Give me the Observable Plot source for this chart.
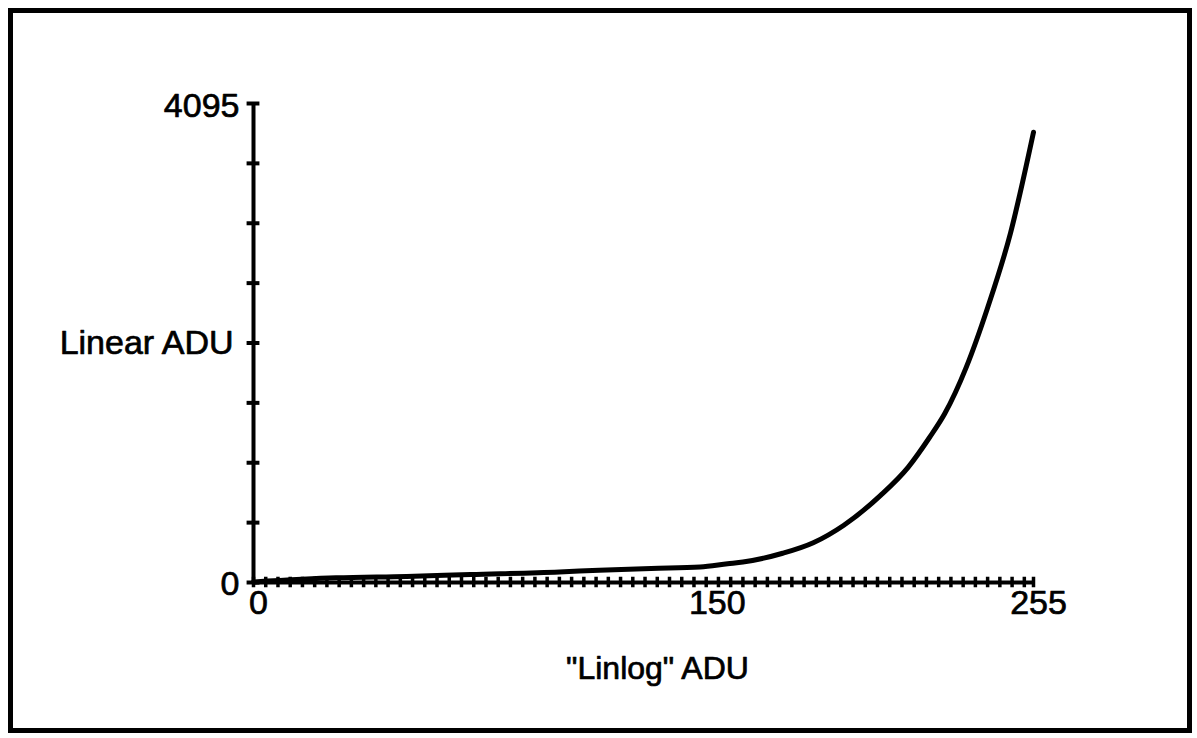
<!DOCTYPE html>
<html>
<head>
<meta charset="utf-8">
<script src="https://cdn.jsdelivr.net/npm/d3@7"></script>
<script src="https://cdn.jsdelivr.net/npm/@observablehq/plot@0.6"></script>
<style>
  html, body { margin: 0; padding: 0; background: #fff; }
  #wrap { position: relative; width: 1197px; height: 738px; overflow: hidden; }
  #frame { position: absolute; left: 8px; top: 8px; width: 1174px; height: 715px; border: 5px solid #000; pointer-events: none; }
</style>
</head>
<body>
<div id="wrap"><div id="frame"></div></div>
<script>
// "Linlog" ADU (x) versus Linear ADU (y)
const linlog = [0, 27, 50, 71, 100, 113, 130, 146, 155, 160, 173, 183, 193, 205, 214, 221, 226, 233, 240, 247.5, 255];
const linear = [5, 40, 52, 68, 90, 105, 120, 132, 160, 175, 250, 340, 490, 745, 985, 1240, 1445, 1840, 2350, 2990, 3850];

const xMax = 255;
const yMax = 4096;
const yTicks = [0, 512, 1024, 1536, 2048, 2560, 3072, 3584, 4096];
const xTicks = [...d3.range(0, 253, 4), 255];
const xTickLabels = [0, 150, 255];
const yTickLabels = [0, 4095];
const xLabel = "\"Linlog\" ADU";
const yLabel = "Linear ADU";

const data = linlog.map((x, i) => ({x, y: linear[i]}));
const font = "'Liberation Sans', Helvetica, Arial, sans-serif";
const textStyle = {fill: "#000", stroke: "#000", strokeWidth: 0.7};

const chart = Plot.plot({
  width: 1197,
  height: 738,
  marginLeft: 253,
  marginRight: 164,
  marginTop: 103,
  marginBottom: 156,
  style: {background: "#fff", fontFamily: font, color: "#000"},
  x: {domain: [0, xMax], axis: null},
  y: {domain: [0, yMax], axis: null},
  marks: [
    // axis lines
    Plot.ruleY([0], {x1: 0, x2: xMax, stroke: "#000", strokeWidth: 4}),
    Plot.ruleX([0], {y1: 0, y2: yMax, stroke: "#000", strokeWidth: 4}),
    // crossing tick marks
    Plot.ruleY(yTicks, {y: d => d, x1: -2.1, x2: 2.1, stroke: "#000", strokeWidth: 4}),
    Plot.ruleX(xTicks, {x: d => d, y1: -45, y2: 45, stroke: "#000", strokeWidth: 3.5}),
    // curve
    Plot.line(data, {x: "x", y: "y", stroke: "#000", strokeWidth: 5, curve: "monotone-x"}),
    // tick labels
    Plot.text(xTickLabels, {x: d => d, frameAnchor: "bottom", dy: 31, dx: 5, fontSize: 34, text: d => String(d), ...textStyle}),
    Plot.text(yTickLabels, {y: d => d, frameAnchor: "left", dx: -14, dy: 2, textAnchor: "end", fontSize: 34, text: d => String(d), ...textStyle}),
    // axis titles
    Plot.text([yLabel], {y: yMax / 2, frameAnchor: "left", dx: -20, textAnchor: "end", fontSize: 34, ...textStyle}),
    Plot.text([xLabel], {x: xMax / 2, frameAnchor: "bottom", dx: 14, dy: 96, fontSize: 32, ...textStyle})
  ]
});
document.getElementById("wrap").prepend(chart);
chart.style.position = "absolute";
chart.style.left = "0";
chart.style.top = "0";
</script>
</body>
</html>
